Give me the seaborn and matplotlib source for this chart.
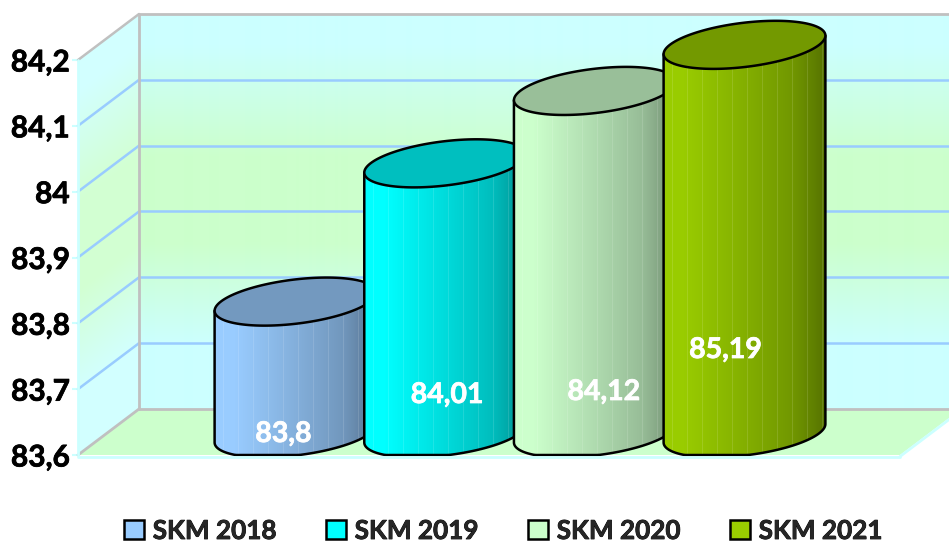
import numpy as np
import matplotlib
matplotlib.use("Agg")
import matplotlib.pyplot as plt
import matplotlib.patheffects as pe
from matplotlib.patches import Polygon, Rectangle
from matplotlib.colors import to_rgb
import seaborn as sns

categories = ["SKM 2018", "SKM 2019", "SKM 2020", "SKM 2021"]
values = [83.8, 84.01, 84.12, 84.19]
value_labels = ["83,8", "84,01", "84,12", "85,19"]
colors = ["#99CCFF", "#00FFFF", "#CCFFCC", "#99CC00"]
y_ticks = [83.6, 83.7, 83.8, 83.9, 84.0, 84.1, 84.2]
y_tick_labels = ["83,6", "83,7", "83,8", "83,9", "84", "84,1", "84,2"]

W, H = 949, 542
sns.set_theme(style="white")
plt.rcParams["font.family"] = ["Lato", "DejaVu Sans"]
fig = plt.figure(figsize=(W / 100, H / 100), dpi=100)
ax = fig.add_axes([78 / W, (H - 455) / H, (900 - 78) / W, 395 / H])
ax.patch.set_visible(False)

sns.barplot(x=categories, y=values, hue=categories, palette=colors, dodge=False,
            width=1.0757, legend=False, ax=ax)

yl, yh = y_ticks[0], y_ticks[-1]
ux = 149.67                 # px per category
xl, xr = -(295.5 - 78) / ux, 3 + (900 - 744.5) / ux
uy = 395 / (yh - yl)        # px per value unit
ax.set_xlim(xl, xr)
ax.set_ylim(yl, yh)
dx, dy = 61 / ux, 46 / uy   # chart depth


def thick(color, w=0.55):
    return [pe.withStroke(linewidth=w, foreground=color)]


# wall gradient
stops_t = [0, 0.08, 0.36, 0.58, 0.84, 1]
cy_, gr_ = np.array(to_rgb("#CCFFFF")), np.array(to_rgb("#CCFFCC"))
stops_c = np.array([cy_, cy_, gr_, gr_, cy_, cy_])


def wall(t):
    t = np.clip(t, 0, 1)
    return np.stack([np.interp(t, stops_t, stops_c[:, k]) for k in range(3)], axis=-1)


back = wall(np.linspace(0, 1, 395))[:, None, :]
ax.imshow(back, extent=(xl + dx, xr + dx, yl + dy, yh + dy), aspect="auto", zorder=1,
          clip_on=False, interpolation="bilinear")

rows, cols = np.mgrid[0:441, 0:61]
side = wall((rows - 46 * (1 - cols / 61)) / 395) * 0.88 + 0.12
im = ax.imshow(side, extent=(xl, xl + dx, yl, yh + dy), aspect="auto", zorder=1,
               interpolation="bilinear")
im.set_clip_path(Polygon([(xl, yl), (xl + dx, yl + dy), (xl + dx, yh + dy), (xl, yh)],
                         transform=ax.transData))
im.set_clip_box(fig.bbox)

ax.add_patch(Polygon([(xl, yl), (xl + dx, yl + dy), (xr + dx, yl + dy), (xr, yl)],
                     closed=True, fc="#CCFFCC", ec="none", zorder=1.2, clip_on=False))

for v in y_ticks[1:-1]:
    ax.plot([xl + dx, xr + dx], [v + dy, v + dy], color="#99CCFF", lw=1.8, zorder=2,
            clip_on=False, solid_capstyle="butt")
for v in y_ticks[1:]:
    ax.plot([xl, xl + dx], [v, v + dy], color="#99CCFF" if v != yh else "#C0C0C0",
            lw=1.8, zorder=2, clip_on=False)
grey = dict(color="#C0C0C0", lw=2.0, zorder=2.2, clip_on=False)
ax.plot([xl + dx, xr + dx], [yh + dy, yh + dy], **grey)
ax.plot([xl + dx, xr + dx], [yl + dy, yl + dy], **grey)
ax.plot([xl + dx, xl + dx], [yl + dy, yh + dy], **grey)
ax.plot([xl, xl + dx], [yl, yl + dy], **grey)
edge = dict(color="#CCFFFF", lw=2, zorder=9, clip_on=False)
ax.plot([xl, xr], [yl - 1.5 / uy] * 2, **edge)
ax.plot([xr, xr + dx], [yl - 1.5 / uy, yl + dy - 1.5 / uy], **edge)
ax.plot([xl, xl], [yl, yh], **edge)

# cylinders, drawn over the bars seaborn placed
pb, bb, qb = -8.0 / ux, 7.0 / uy, 23.0 / uy
base_off = 12.5 / uy
shade_t = [0, 0.12, 0.5, 0.8, 1]
shade_f = [1, 1, 0.86, 0.74, 0.57]
for i, (bar, col) in enumerate(zip(ax.patches[:4], colors)):
    v = values[i]
    x0, w = bar.get_x(), bar.get_width()
    a = w / 2
    cx = x0 + a
    bar.set_y(yl + base_off)
    bar.set_height(v - yl)
    bar.set_zorder(3 + i)
    t0 = np.arctan2(pb * ux, a * ux)
    tang = bb * np.cos(t0) - qb * np.sin(t0)   # rise of the tangent point

    def ell(cyy, t):
        return cx + a * np.cos(t) + pb * np.sin(t), cyy + bb * np.cos(t) - qb * np.sin(t)

    c_top = v + base_off + tang
    c_bot = yl + base_off + tang
    tt = np.linspace(t0, t0 + np.pi, 80)
    bx, by = ell(c_bot, tt)
    by = np.maximum(by, yl)
    tx, ty = ell(c_top, tt[::-1])
    body = Polygon(np.r_[np.c_[bx, by], np.c_[tx, ty]], closed=True, fc="none", ec="none",
                   transform=ax.transData)
    bar.set_clip_path(body)
    bar.set_clip_box(fig.bbox)

    # shaded strip with faint vertical ribs
    n = 161
    f = np.interp(np.linspace(0, 1, n), shade_t, shade_f)
    strip = np.array(to_rgb(col))[None, :] * f[:, None]
    ribs = np.arange(8, n, 15)
    strip[ribs] = strip[ribs] * 0.88 + 0.12
    img = ax.imshow(strip[None, :, :], extent=(x0, x0 + w, yl, yh + 0.1), aspect="auto",
                    zorder=3 + i, interpolation="nearest")
    img.set_clip_path(body)
    img.set_clip_box(fig.bbox)

    rx, ry = ell(c_top, t0)
    lx, ly = ell(c_top, t0 + np.pi)
    ax.plot(np.r_[rx, bx, lx], np.r_[ry, by, ly],
            color="black", lw=1.8, zorder=3 + i + 0.2, clip_on=False)
    ft = np.linspace(0, 2 * np.pi, 160)
    ex, ey = ell(c_top, ft)
    ax.add_patch(Polygon(np.c_[ex, ey], closed=True, fc=np.array(to_rgb(col)) * 0.75, ec="black",
                         lw=1.8, zorder=3 + i + 0.3, clip_on=False))

ax.set_xlim(xl, xr)
ax.set_ylim(yl, yh)

# data labels
label_off = [(-12, 21), (2, 60), (9, 63), (-19, 105)]
for bar, txt, off in zip(ax.patches[:4], value_labels, label_off):
    ax.annotate(txt, xy=(bar.get_x() + bar.get_width() / 2, yl), xytext=off,
                textcoords="offset pixels", ha="center", va="center", color="white",
                fontsize=20.5, fontweight="bold", zorder=20, annotation_clip=False,
                path_effects=thick("white"))

sns.despine(ax=ax, left=True, bottom=True, right=True, top=True)
ax.set_xticks([])
ax.set_xlabel("")
ax.set_ylabel("")
ax.set_yticks(y_ticks)
ax.set_yticklabels(y_tick_labels, fontsize=21.5, fontweight="bold", color="black",
                   path_effects=thick("black"))
ax.tick_params(axis="y", left=True, length=4, width=1.5, color="#CCFFFF", pad=2)

handles = [Rectangle((0, 0), 1, 1, fc=c, ec="black", lw=1.8) for c in colors]
leg = fig.legend(handles, categories, loc="lower left", bbox_to_anchor=(124 / W, -1 / H), ncol=4,
                 frameon=False, prop={"weight": "bold", "size": 18.8, "family": "Lato"},
                 handlelength=0.75, handleheight=0.75, handletextpad=0.35, columnspacing=1.88,
                 borderpad=0, borderaxespad=0)
for t in leg.get_texts():
    t.set_path_effects(thick("black"))

fig.savefig("out.png", dpi=100)
